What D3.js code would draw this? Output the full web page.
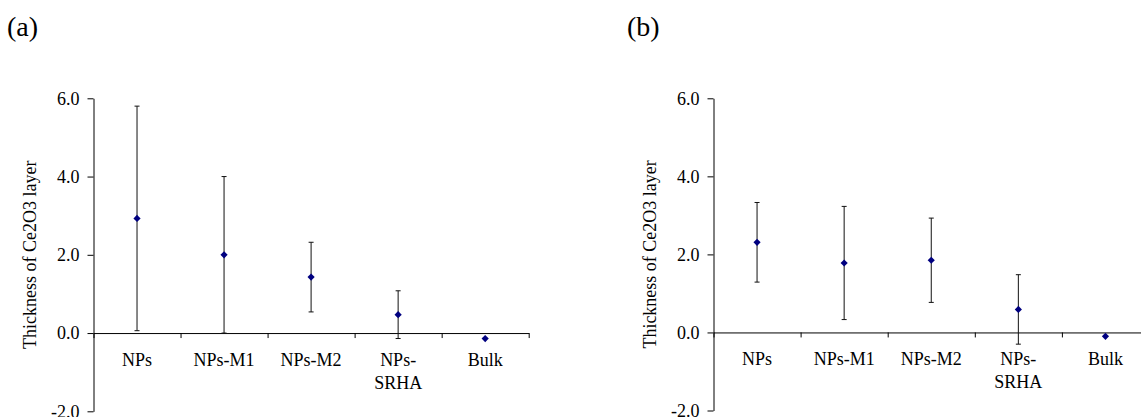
<!DOCTYPE html>
<html>
<head>
<meta charset="utf-8">
<script src="https://cdn.jsdelivr.net/npm/d3@7"></script>
<style>
  body { margin: 0; background: #fff; }
  svg text { font-family: "Liberation Serif", "Times New Roman", serif; fill: #000; }
</style>
</head>
<body>
<svg id="chart" width="1141" height="417"></svg>
<script>
// categories and values
var categories = ["NPs", "NPs-M1", "NPs-M2", "NPs-SRHA", "Bulk"];
var catLabels = [["NPs"], ["NPs-M1"], ["NPs-M2"], ["NPs-", "SRHA"], ["Bulk"]];
var meansA = [2.93, 2.0, 1.43, 0.47, -0.14];
var errA = [2.87, 2.0, 0.89, 0.61, null];
var meansB = [2.31, 1.78, 1.85, 0.59, -0.10];
var errB = [1.02, 1.45, 1.08, 0.89, null];
var yTicks = [-2, 0, 2, 4, 6];
var yTitle = "Thickness of Ce2O3 layer";

var svg = d3.select("#chart");

function drawPanel(cfg) {
    var g = svg.append("g");

    var x = d3.scaleBand()
        .domain(categories)
        .range([cfg.x0, cfg.x1]);

    var y = d3.scaleLinear()
        .domain([-2, 6])
        .range([cfg.yBottom, cfg.yTop]);

    // boundaries for the category tick marks
    var xb = d3.scaleLinear().domain([0, categories.length]).range([cfg.x0, cfg.x1]);

    // panel letter
    g.append("text")
        .attr("x", cfg.letterX)
        .attr("y", 36)
        .style("font-size", "28px")
        .text(cfg.letter);

    // y axis
    var yAxis = d3.axisLeft(y)
        .tickValues(yTicks)
        .tickSize(6)
        .tickSizeOuter(0)
        .tickPadding(8)
        .tickFormat(function (d) { return d.toFixed(1); });

    var gy = g.append("g")
        .attr("transform", "translate(" + cfg.x0 + ",0)")
        .call(yAxis);
    gy.selectAll("text")
        .style("font-size", "18px")
        .style("font-family", "Liberation Serif, serif")
        .attr("dy", "0.32em");
    gy.selectAll("path, line").attr("stroke", "#000");

    // x axis along zero
    var xAxis = d3.axisBottom(xb)
        .tickValues(d3.range(categories.length + 1))
        .tickSize(5)
        .tickSizeOuter(0)
        .tickFormat("");

    var gx = g.append("g")
        .attr("transform", "translate(0," + y(0) + ")")
        .call(xAxis);
    gx.selectAll("path, line").attr("stroke", "#000");

    // category labels, wrapped like the original
    var labels = g.selectAll(".cat")
        .data(categories)
        .enter()
        .append("text")
        .attr("class", "cat")
        .attr("text-anchor", "middle")
        .style("font-size", "18px");

    labels.each(function (d, i) {
        var t = d3.select(this);
        catLabels[i].forEach(function (line, j) {
            t.append("tspan")
                .attr("x", x(d) + x.bandwidth() / 2)
                .attr("y", y(0) + 33 + j * 23)
                .text(line);
        });
    });

    // y title
    g.append("text")
        .attr("transform", "translate(" + cfg.titleX + "," + (cfg.yTop + cfg.yBottom) / 2 + ") rotate(-90)")
        .attr("text-anchor", "middle")
        .style("font-size", "18px")
        .text(yTitle);

    var data = categories.map(function (c, i) {
        return { name: c, mean: cfg.means[i], err: cfg.errs[i] };
    });

    // error bars
    var eb = g.selectAll(".err")
        .data(data.filter(function (d) { return d.err != null; }))
        .enter()
        .append("g")
        .attr("class", "err")
        .attr("stroke", "#111")
        .attr("stroke-width", 1);

    eb.append("line")
        .attr("x1", function (d) { return x(d.name) + x.bandwidth() / 2; })
        .attr("x2", function (d) { return x(d.name) + x.bandwidth() / 2; })
        .attr("y1", function (d) { return y(d.mean + d.err); })
        .attr("y2", function (d) { return y(d.mean - d.err); });

    [1, -1].forEach(function (s) {
        eb.append("line")
            .attr("x1", function (d) { return x(d.name) + x.bandwidth() / 2 - 2.5; })
            .attr("x2", function (d) { return x(d.name) + x.bandwidth() / 2 + 2.5; })
            .attr("y1", function (d) { return y(d.mean + s * d.err); })
            .attr("y2", function (d) { return y(d.mean + s * d.err); });
    });

    // diamond markers
    g.selectAll(".pt")
        .data(data)
        .enter()
        .append("path")
        .attr("class", "pt")
        .attr("d", d3.symbol().type(d3.symbolSquare).size(26))
        .attr("transform", function (d) {
            return "translate(" + (x(d.name) + x.bandwidth() / 2) + "," + y(d.mean) + ") rotate(45)";
        })
        .attr("fill", "#000080");
}

drawPanel({ letter: "(a)", letterX: 7, x0: 93.5, x1: 528.7, yTop: 98.3, yBottom: 411.3, titleX: 35.5, means: meansA, errs: errA });
drawPanel({ letter: "(b)", letterX: 627, x0: 713.5, x1: 1149, yTop: 98.3, yBottom: 410.5, titleX: 655.5, means: meansB, errs: errB });
</script>
</body>
</html>
